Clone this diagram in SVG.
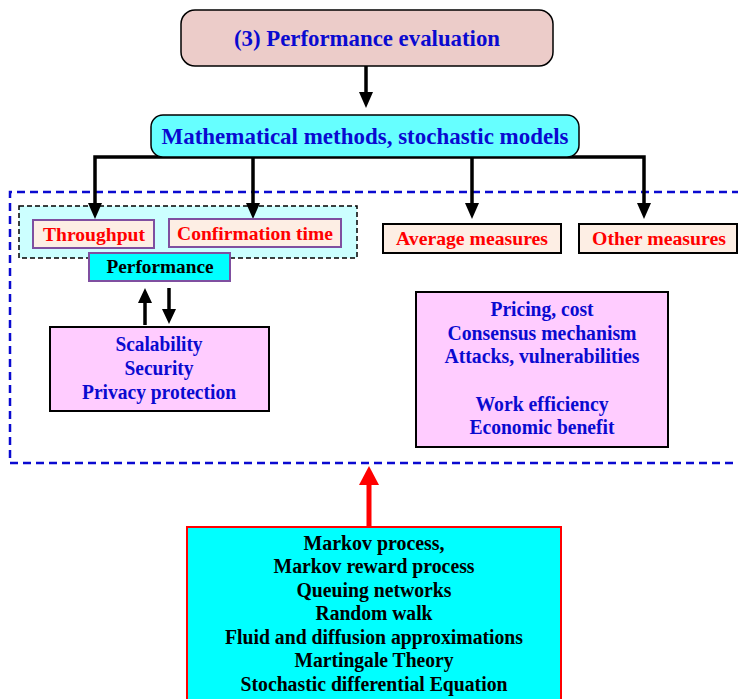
<svg xmlns="http://www.w3.org/2000/svg" width="738" height="699" viewBox="0 0 738 699">
<style>
text{font-family:"Liberation Serif","Times New Roman",serif;font-weight:bold;text-anchor:middle}
.blue{fill:#0a0ad0}
.red{fill:#ff0000}
.blk{fill:#000}
.conn{stroke:#000;stroke-width:3.5;fill:none}
.lab{fill:#fdeee4;stroke:#7f4fa0;stroke-width:2}
.lab2{fill:#fdeee4;stroke:#000;stroke-width:2}
</style>
<rect width="738" height="699" fill="#fff"/>

<g id="outer-frame">
<path d="M740,192 H10 V463 H740" fill="none" stroke="#0a0ad0" stroke-width="2.5" stroke-dasharray="8,5"/>
</g>

<g id="performance-group">
<rect x="19" y="206" width="338" height="52" fill="#ccffff" stroke="#000" stroke-width="1.5" stroke-dasharray="5,3"/>
</g>

<g id="connectors">
<path class="conn" d="M366,66 V92"/>
<path d="M359,92 L373,92 L366,108 Z" fill="#000"/>
<path class="conn" d="M95,203 V157 H644 V203"/>
<path class="conn" d="M253,157 V203"/>
<path class="conn" d="M472,157 V203"/>
<path d="M88,203 L102,203 L95,219 Z" fill="#000"/>
<path d="M246,203 L260,203 L253,219 Z" fill="#000"/>
<path d="M465,203 L479,203 L472,219 Z" fill="#000"/>
<path d="M637,203 L651,203 L644,219 Z" fill="#000"/>
<path class="conn" d="M145,325 V303"/>
<path d="M138,303 L152,303 L145,288 Z" fill="#000"/>
<path class="conn" d="M169,288 V309"/>
<path d="M162,309 L176,309 L169,324 Z" fill="#000"/>
<path d="M369,527 V484" stroke="#ff0000" stroke-width="5" fill="none"/>
<path d="M359,485 L379,485 L369,466 Z" fill="#ff0000"/>
</g>

<g id="title">
<rect x="181" y="10" width="372" height="56" rx="14" fill="#ecccc9" stroke="#000" stroke-width="1.5"/>
<text x="367" y="46" font-size="24" class="blue" textLength="266" lengthAdjust="spacingAndGlyphs">(3) Performance evaluation</text>
</g>

<g id="math-methods">
<rect x="151" y="115" width="428" height="42" rx="12" fill="#66ffff" stroke="#000" stroke-width="1.5"/>
<text x="365" y="144" font-size="24" class="blue" textLength="407" lengthAdjust="spacingAndGlyphs">Mathematical methods, stochastic models</text>
</g>

<g id="throughput">
<rect class="lab" x="33" y="220" width="121" height="28"/>
<text x="94" y="241" font-size="19" class="red" textLength="102" lengthAdjust="spacingAndGlyphs">Throughput</text>
</g>

<g id="confirmation-time">
<rect class="lab" x="169" y="219" width="172" height="28"/>
<text x="255" y="240" font-size="19" class="red" textLength="156" lengthAdjust="spacingAndGlyphs">Confirmation time</text>
</g>

<g id="performance">
<rect x="89" y="253" width="141" height="28" fill="#00ffff" stroke="#7f4fa0" stroke-width="2"/>
<text x="160" y="273" font-size="18" class="blk" textLength="107" lengthAdjust="spacingAndGlyphs">Performance</text>
</g>

<g id="average-measures">
<rect class="lab2" x="383" y="224" width="178" height="29"/>
<text x="472" y="245" font-size="19" class="red" textLength="152" lengthAdjust="spacingAndGlyphs">Average measures</text>
</g>

<g id="other-measures">
<rect class="lab2" x="579" y="224" width="158" height="29"/>
<text x="659" y="245" font-size="19" class="red" textLength="134" lengthAdjust="spacingAndGlyphs">Other measures</text>
</g>

<g id="scalability">
<rect x="50" y="327" width="219" height="84" fill="#ffccff" stroke="#000" stroke-width="2"/>
<text x="159" y="351" font-size="20" class="blue" textLength="87" lengthAdjust="spacingAndGlyphs">Scalability</text>
<text x="159" y="375" font-size="20" class="blue" textLength="69" lengthAdjust="spacingAndGlyphs">Security</text>
<text x="159" y="399" font-size="20" class="blue" textLength="154" lengthAdjust="spacingAndGlyphs">Privacy protection</text>
</g>

<g id="pricing">
<rect x="416" y="292" width="252" height="155" fill="#ffccff" stroke="#000" stroke-width="2"/>
<text x="542" y="316" font-size="20" class="blue" textLength="103" lengthAdjust="spacingAndGlyphs">Pricing, cost</text>
<text x="542" y="340" font-size="20" class="blue" textLength="189" lengthAdjust="spacingAndGlyphs">Consensus mechanism</text>
<text x="542" y="363" font-size="20" class="blue" textLength="195" lengthAdjust="spacingAndGlyphs">Attacks, vulnerabilities</text>
<text x="542" y="411" font-size="20" class="blue" textLength="133" lengthAdjust="spacingAndGlyphs">Work efficiency</text>
<text x="542" y="434" font-size="20" class="blue" textLength="145" lengthAdjust="spacingAndGlyphs">Economic benefit</text>
</g>

<g id="methods">
<rect x="187" y="527" width="374" height="180" fill="#00ffff" stroke="#ff0000" stroke-width="2"/>
<text x="374" y="550" font-size="20" class="blk" textLength="141" lengthAdjust="spacingAndGlyphs">Markov process,</text>
<text x="374" y="573" font-size="20" class="blk" textLength="201" lengthAdjust="spacingAndGlyphs">Markov reward process</text>
<text x="374" y="597" font-size="20" class="blk" textLength="155" lengthAdjust="spacingAndGlyphs">Queuing networks</text>
<text x="374" y="620" font-size="20" class="blk" textLength="117" lengthAdjust="spacingAndGlyphs">Random walk</text>
<text x="374" y="644" font-size="20" class="blk" textLength="298" lengthAdjust="spacingAndGlyphs">Fluid and diffusion approximations</text>
<text x="374" y="667" font-size="20" class="blk" textLength="159" lengthAdjust="spacingAndGlyphs">Martingale Theory</text>
<text x="374" y="691" font-size="20" class="blk" textLength="267" lengthAdjust="spacingAndGlyphs">Stochastic differential Equation</text>
</g>
</svg>
